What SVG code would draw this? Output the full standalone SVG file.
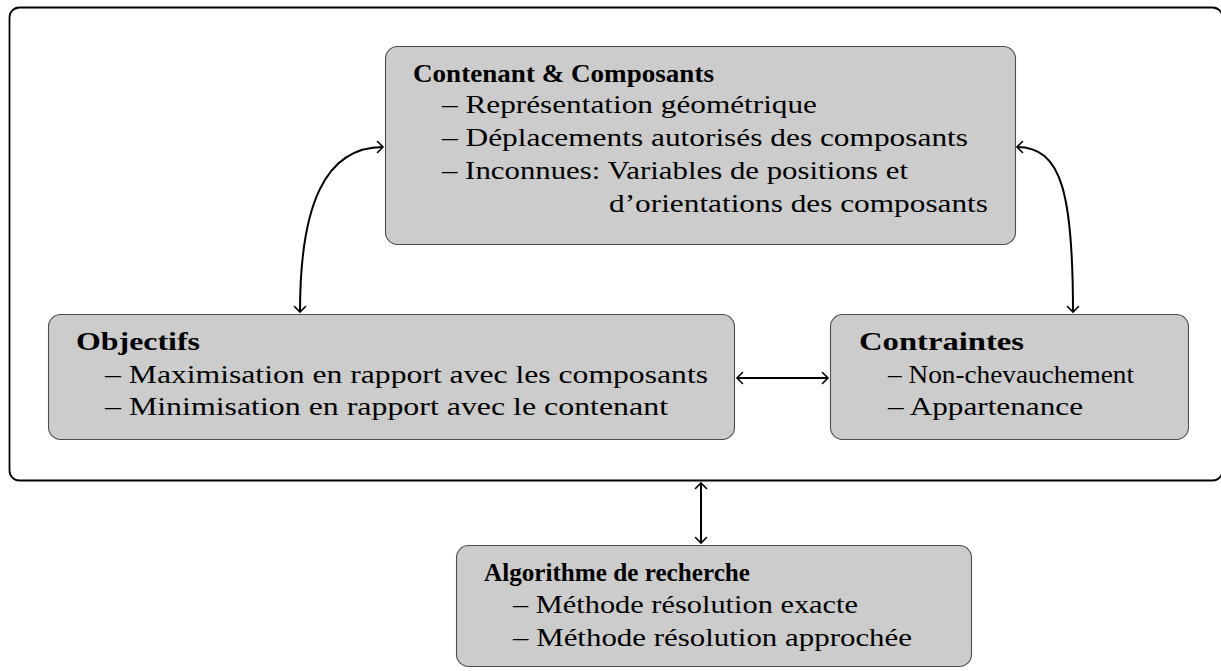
<svg xmlns="http://www.w3.org/2000/svg" width="1221" height="671" viewBox="0 0 1221 671">
  <style>
    .box { fill: #cccccc; stroke: #4d4d4d; stroke-width: 1.1; }
    .frame { fill: none; stroke: #000; stroke-width: 1.8; }
    .t { font-family: "Liberation Serif", "Times New Roman", serif; font-size: 25.5px; fill: #000; }
    .b { font-weight: bold; font-size: 25px; }
    .link { fill: none; stroke: #000; stroke-width: 2; marker-start: url(#tip); marker-end: url(#tip); }
  </style>
  <defs>
    <marker id="tip" viewBox="-7 -7 9 14" markerWidth="9" markerHeight="14" refX="0" refY="0" orient="auto-start-reverse" markerUnits="userSpaceOnUse">
      <path d="M-5.5,-5.5 Q-1,-1 0,0 Q-1,1 -5.5,5.5" fill="none" stroke="#000" stroke-width="1.6" stroke-linecap="round"/>
    </marker>
  </defs>

  <!-- outer frame around the model -->
  <rect class="frame" x="9.5" y="7.5" width="1213" height="473" rx="10"/>

  <g id="contenant">
    <rect class="box" x="385.5" y="46.5" width="630" height="198" rx="12"/>
    <text class="t b" x="413" y="82" textLength="301" lengthAdjust="spacingAndGlyphs">Contenant &amp; Composants</text>
    <text class="t" x="442" y="113" textLength="375" lengthAdjust="spacingAndGlyphs">– Représentation géométrique</text>
    <text class="t" x="442" y="146" textLength="526" lengthAdjust="spacingAndGlyphs">– Déplacements autorisés des composants</text>
    <text class="t" x="442" y="179" textLength="466" lengthAdjust="spacingAndGlyphs">– Inconnues: Variables de positions et</text>
    <text class="t" x="609" y="212" textLength="379" lengthAdjust="spacingAndGlyphs">d’orientations des composants</text>
  </g>

  <g id="objectifs">
    <rect class="box" x="48.5" y="314.5" width="686" height="125" rx="12"/>
    <text class="t b" x="76" y="350" textLength="124" lengthAdjust="spacingAndGlyphs">Objectifs</text>
    <text class="t" x="105" y="383" textLength="603" lengthAdjust="spacingAndGlyphs">– Maximisation en rapport avec les composants</text>
    <text class="t" x="105" y="415" textLength="563" lengthAdjust="spacingAndGlyphs">– Minimisation en rapport avec le contenant</text>
  </g>

  <g id="contraintes">
    <rect class="box" x="830.5" y="314.5" width="358" height="125" rx="12"/>
    <text class="t b" x="859" y="350" textLength="165" lengthAdjust="spacingAndGlyphs">Contraintes</text>
    <text class="t" x="888" y="383" textLength="246" lengthAdjust="spacingAndGlyphs">– Non-chevauchement</text>
    <text class="t" x="888" y="415" textLength="195" lengthAdjust="spacingAndGlyphs">– Appartenance</text>
  </g>

  <g id="algorithme">
    <rect class="box" x="456.5" y="545.5" width="515" height="121" rx="12"/>
    <text class="t b" x="484" y="581" textLength="266" lengthAdjust="spacingAndGlyphs">Algorithme de recherche</text>
    <text class="t" x="513" y="613" textLength="345" lengthAdjust="spacingAndGlyphs">– Méthode résolution exacte</text>
    <text class="t" x="513" y="646" textLength="399" lengthAdjust="spacingAndGlyphs">– Méthode résolution approchée</text>
  </g>

  <g id="connectors">
    <path class="link" d="M300,312 C300,205 325,147 383,147"/>
    <path class="link" d="M1017,147 C1062,147 1073,195 1073,312"/>
    <path class="link" d="M737,378 L828,378"/>
    <path class="link" d="M701,483 L701,543"/>
  </g>
</svg>
